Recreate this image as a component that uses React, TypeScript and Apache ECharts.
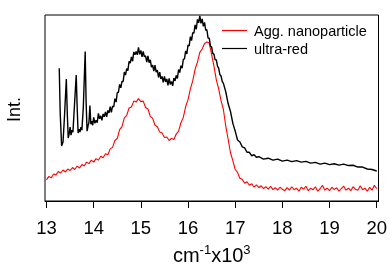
import React, { useEffect, useRef } from "react";
import * as echarts from "echarts";

const xTicks = [13, 14, 15, 16, 17, 18, 19, 20];
const seriesNames = ["Agg. nanoparticle", "ultra-red"];
const xAxisTitle = "{a|cm}{s|-1}{a|x10}{s|3}";
const yAxisTitle = "Int.";

const aggNanoparticle: [number, number][] = [
  [13.0, 21.5], [13.05, 25], [13.1, 23.5], [13.15, 27.5], [13.2, 26.5], [13.25, 30], [13.3, 28.5], [13.35, 31.5],
  [13.4, 29.5], [13.45, 32.5], [13.5, 31], [13.55, 34], [13.6, 32], [13.65, 35.5], [13.7, 33.5], [13.75, 37],
  [13.8, 35.5], [13.85, 39.5], [13.9, 38], [13.95, 41.5], [14.0, 39.5], [14.05, 43], [14.1, 41.5], [14.15, 45.5],
  [14.2, 44], [14.25, 48], [14.3, 47], [14.35, 53], [14.4, 54.5], [14.45, 61.5], [14.5, 63.5], [14.55, 72.5],
  [14.6, 75.5], [14.65, 84.5], [14.7, 87], [14.75, 94.5], [14.8, 95.5], [14.85, 101.5], [14.9, 100.5], [14.95, 104],
  [15.0, 101], [15.05, 101.5], [15.1, 95], [15.15, 93.5], [15.2, 86], [15.25, 84], [15.3, 77], [15.35, 75.5],
  [15.4, 70], [15.45, 69], [15.5, 64.5], [15.55, 65], [15.6, 61.5], [15.65, 63.5], [15.7, 62.5], [15.75, 68],
  [15.8, 71], [15.85, 79.5], [15.9, 85], [15.95, 96], [16.0, 103], [16.05, 114], [16.1, 122], [16.15, 134],
  [16.2, 141], [16.25, 151], [16.3, 154.5], [16.35, 160], [16.4, 161.5], [16.45, 160.5], [16.5, 149], [16.55, 137],
  [16.6, 123], [16.65, 114], [16.7, 102], [16.75, 93], [16.8, 76], [16.85, 63], [16.9, 49], [16.95, 41],
  [17.0, 32], [17.05, 29], [17.1, 23], [17.15, 22], [17.2, 18], [17.25, 19.5], [17.3, 16], [17.35, 17.5],
  [17.4, 14], [17.45, 16.5], [17.5, 13.5], [17.55, 15.5], [17.6, 12.5], [17.65, 14.5], [17.7, 12], [17.75, 15],
  [17.8, 11.5], [17.85, 13.5], [17.9, 11], [17.95, 14], [18.0, 12], [18.05, 10.5], [18.1, 13.5], [18.15, 11],
  [18.2, 14.5], [18.25, 11.5], [18.3, 13], [18.35, 10], [18.4, 14], [18.45, 12], [18.5, 15], [18.55, 10.5],
  [18.6, 13], [18.65, 11.5], [18.7, 14.5], [18.75, 10], [18.8, 12.5], [18.85, 16], [18.9, 11], [18.95, 13],
  [19.0, 10.5], [19.05, 14], [19.1, 11.5], [19.15, 13.5], [19.2, 10], [19.25, 12.5], [19.3, 15], [19.35, 11],
  [19.4, 13], [19.45, 10.5], [19.5, 14.5], [19.55, 12], [19.6, 11], [19.65, 15.5], [19.7, 11.5], [19.75, 13],
  [19.8, 10], [19.85, 14], [19.9, 11], [19.95, 16], [20.0, 12.5],
];

const ultraRed: [number, number][] = [
  [13.27, 135], [13.29, 90], [13.32, 56], [13.35, 60], [13.38, 85], [13.42, 124], [13.44, 90], [13.46, 64],
  [13.48, 68], [13.5, 75], [13.52, 67], [13.54, 72], [13.56, 70], [13.59, 95], [13.63, 128], [13.65, 95],
  [13.67, 69], [13.69, 73], [13.71, 70], [13.73, 75], [13.75, 72], [13.78, 95], [13.82, 152], [13.84, 100],
  [13.86, 71], [13.88, 76], [13.9, 80], [13.92, 97], [13.94, 78], [13.96, 81], [13.98, 77],
  [14.0, 85], [14.025, 79], [14.05, 82], [14.075, 79.5], [14.1, 89], [14.125, 83.5], [14.15, 86.5], [14.175, 82],
  [14.2, 88.5], [14.225, 85.5], [14.25, 90.5], [14.275, 85.5], [14.3, 92], [14.325, 89.5], [14.35, 96], [14.375, 90],
  [14.4, 96.5], [14.425, 95.5], [14.45, 104], [14.475, 100.5], [14.5, 110], [14.525, 110.5], [14.55, 118.5], [14.575, 115],
  [14.6, 121.5], [14.625, 121.5], [14.65, 131], [14.675, 128], [14.7, 134.5], [14.725, 132.5], [14.75, 142], [14.775, 140],
  [14.8, 146.5], [14.825, 142], [14.85, 151.5], [14.875, 148.5], [14.9, 152], [14.925, 148.5], [14.95, 156], [14.975, 149],
  [15.0, 153], [15.025, 146.5], [15.05, 152], [15.075, 146.5], [15.1, 147.5], [15.125, 141], [15.15, 147.5], [15.175, 140.5],
  [15.2, 143.5], [15.225, 136], [15.25, 138], [15.275, 132], [15.3, 138], [15.325, 131], [15.35, 133], [15.375, 125.5],
  [15.4, 131], [15.425, 124], [15.45, 126.5], [15.475, 120.5], [15.5, 126.5], [15.525, 121], [15.55, 124], [15.575, 117.5],
  [15.6, 124.5], [15.625, 118.5], [15.65, 121.5], [15.675, 117], [15.7, 125], [15.725, 122], [15.75, 127.5], [15.775, 124.5],
  [15.8, 133.5], [15.825, 130.5], [15.85, 137.5], [15.875, 135], [15.9, 144], [15.925, 144.5], [15.95, 152.5], [15.975, 149.5],
  [16.0, 158.5], [16.025, 157.5], [16.05, 167], [16.075, 163], [16.1, 171], [16.125, 170.5], [16.15, 179], [16.175, 174.5],
  [16.2, 184.5], [16.225, 181], [16.25, 188], [16.275, 180.5], [16.3, 185], [16.325, 177.5], [16.35, 181.5], [16.375, 173.5],
  [16.4, 174], [16.425, 165.5], [16.45, 165.5], [16.475, 157.5], [16.5, 156.5], [16.525, 150], [16.55, 149], [16.575, 143.5],
  [16.6, 143.5], [16.625, 137], [16.65, 135], [16.675, 128.5], [16.7, 127], [16.725, 121.5], [16.75, 119.5],
  [16.8, 111], [16.85, 99], [16.9, 91], [16.95, 79], [17.0, 71], [17.05, 62], [17.1, 60], [17.15, 55],
  [17.2, 54], [17.25, 49.5], [17.3, 49.5], [17.35, 46], [17.4, 47], [17.45, 44.5], [17.5, 45],
  [17.6, 42.5], [17.7, 43.5], [17.8, 41.5], [17.9, 42.5], [18.0, 40.5], [18.1, 41.5], [18.2, 40], [18.3, 41],
  [18.4, 39.5], [18.5, 40.3], [18.6, 38.5], [18.7, 39.2], [18.8, 37.5], [18.9, 38.5], [19.0, 37], [19.1, 37.8],
  [19.2, 36.5], [19.3, 37.5], [19.4, 36], [19.5, 36.3], [19.6, 34.5], [19.7, 34.5], [19.8, 32.5], [19.9, 32],
  [20.0, 30.5],
];

const FONT = "Liberation Sans";

export default function App() {
  const ref = useRef<HTMLDivElement>(null);
  useEffect(() => {
    const chart = echarts.init(ref.current!, null, { renderer: "svg" });
    chart.setOption({
      animation: false,
      textStyle: { fontFamily: FONT },
      grid: {
        left: 45,
        right: 13.5,
        top: 15,
        bottom: 66,
        show: true,
        borderColor: "#000",
        borderWidth: 1,
        backgroundColor: "transparent",
      },
      legend: {
        orient: "vertical",
        left: 222,
        top: 23,
        padding: 0,
        itemWidth: 25,
        itemHeight: 14,
        itemGap: 3,
        icon: "path://M0,0H25V1.2H0Z",
        data: seriesNames,
        textStyle: { fontSize: 14.5, color: "#000", fontFamily: FONT, padding: [0, 0, 0, 2] },
      },
      xAxis: {
        type: "value",
        min: 12.968,
        max: 20.038,
        axisLine: { show: true, lineStyle: { color: "#000", width: 1 } },
        axisTick: { show: true, customValues: xTicks, length: 7, inside: false, lineStyle: { color: "#000", width: 1 } },
        axisLabel: { customValues: xTicks, fontSize: 18.5, color: "#000", margin: 17, fontFamily: FONT },
        splitLine: { show: false },
        name: xAxisTitle,
        nameLocation: "middle",
        nameGap: 42,
        nameTextStyle: {
          rich: {
            a: { fontSize: 20, color: "#000", fontFamily: FONT, verticalAlign: "bottom", lineHeight: 22 },
            s: { fontSize: 13, color: "#000", fontFamily: FONT, verticalAlign: "top", lineHeight: 12 },
          },
        },
      },
      yAxis: { type: "value", min: 0, max: 189, show: false },
      graphic: [
        {
          type: "text",
          x: 14,
          y: 109.5,
          rotation: Math.PI / 2,
          style: { text: yAxisTitle, fontSize: 18, fill: "#000", align: "center", verticalAlign: "middle", fontFamily: FONT },
        },
      ],
      series: [
        {
          name: seriesNames[0],
          type: "line",
          data: aggNanoparticle,
          symbol: "none",
          lineStyle: { color: "#ff0000", width: 1.1 },
          itemStyle: { color: "#ff0000" },
        },
        {
          name: seriesNames[1],
          type: "line",
          data: ultraRed,
          symbol: "none",
          lineStyle: { color: "#000000", width: 1.4 },
          itemStyle: { color: "#000000" },
        },
      ],
    });
    return () => chart.dispose();
  }, []);
  return <div ref={ref} style={{ position: "fixed", left: 0, top: 0, width: 392, height: 270 }} />;
}
